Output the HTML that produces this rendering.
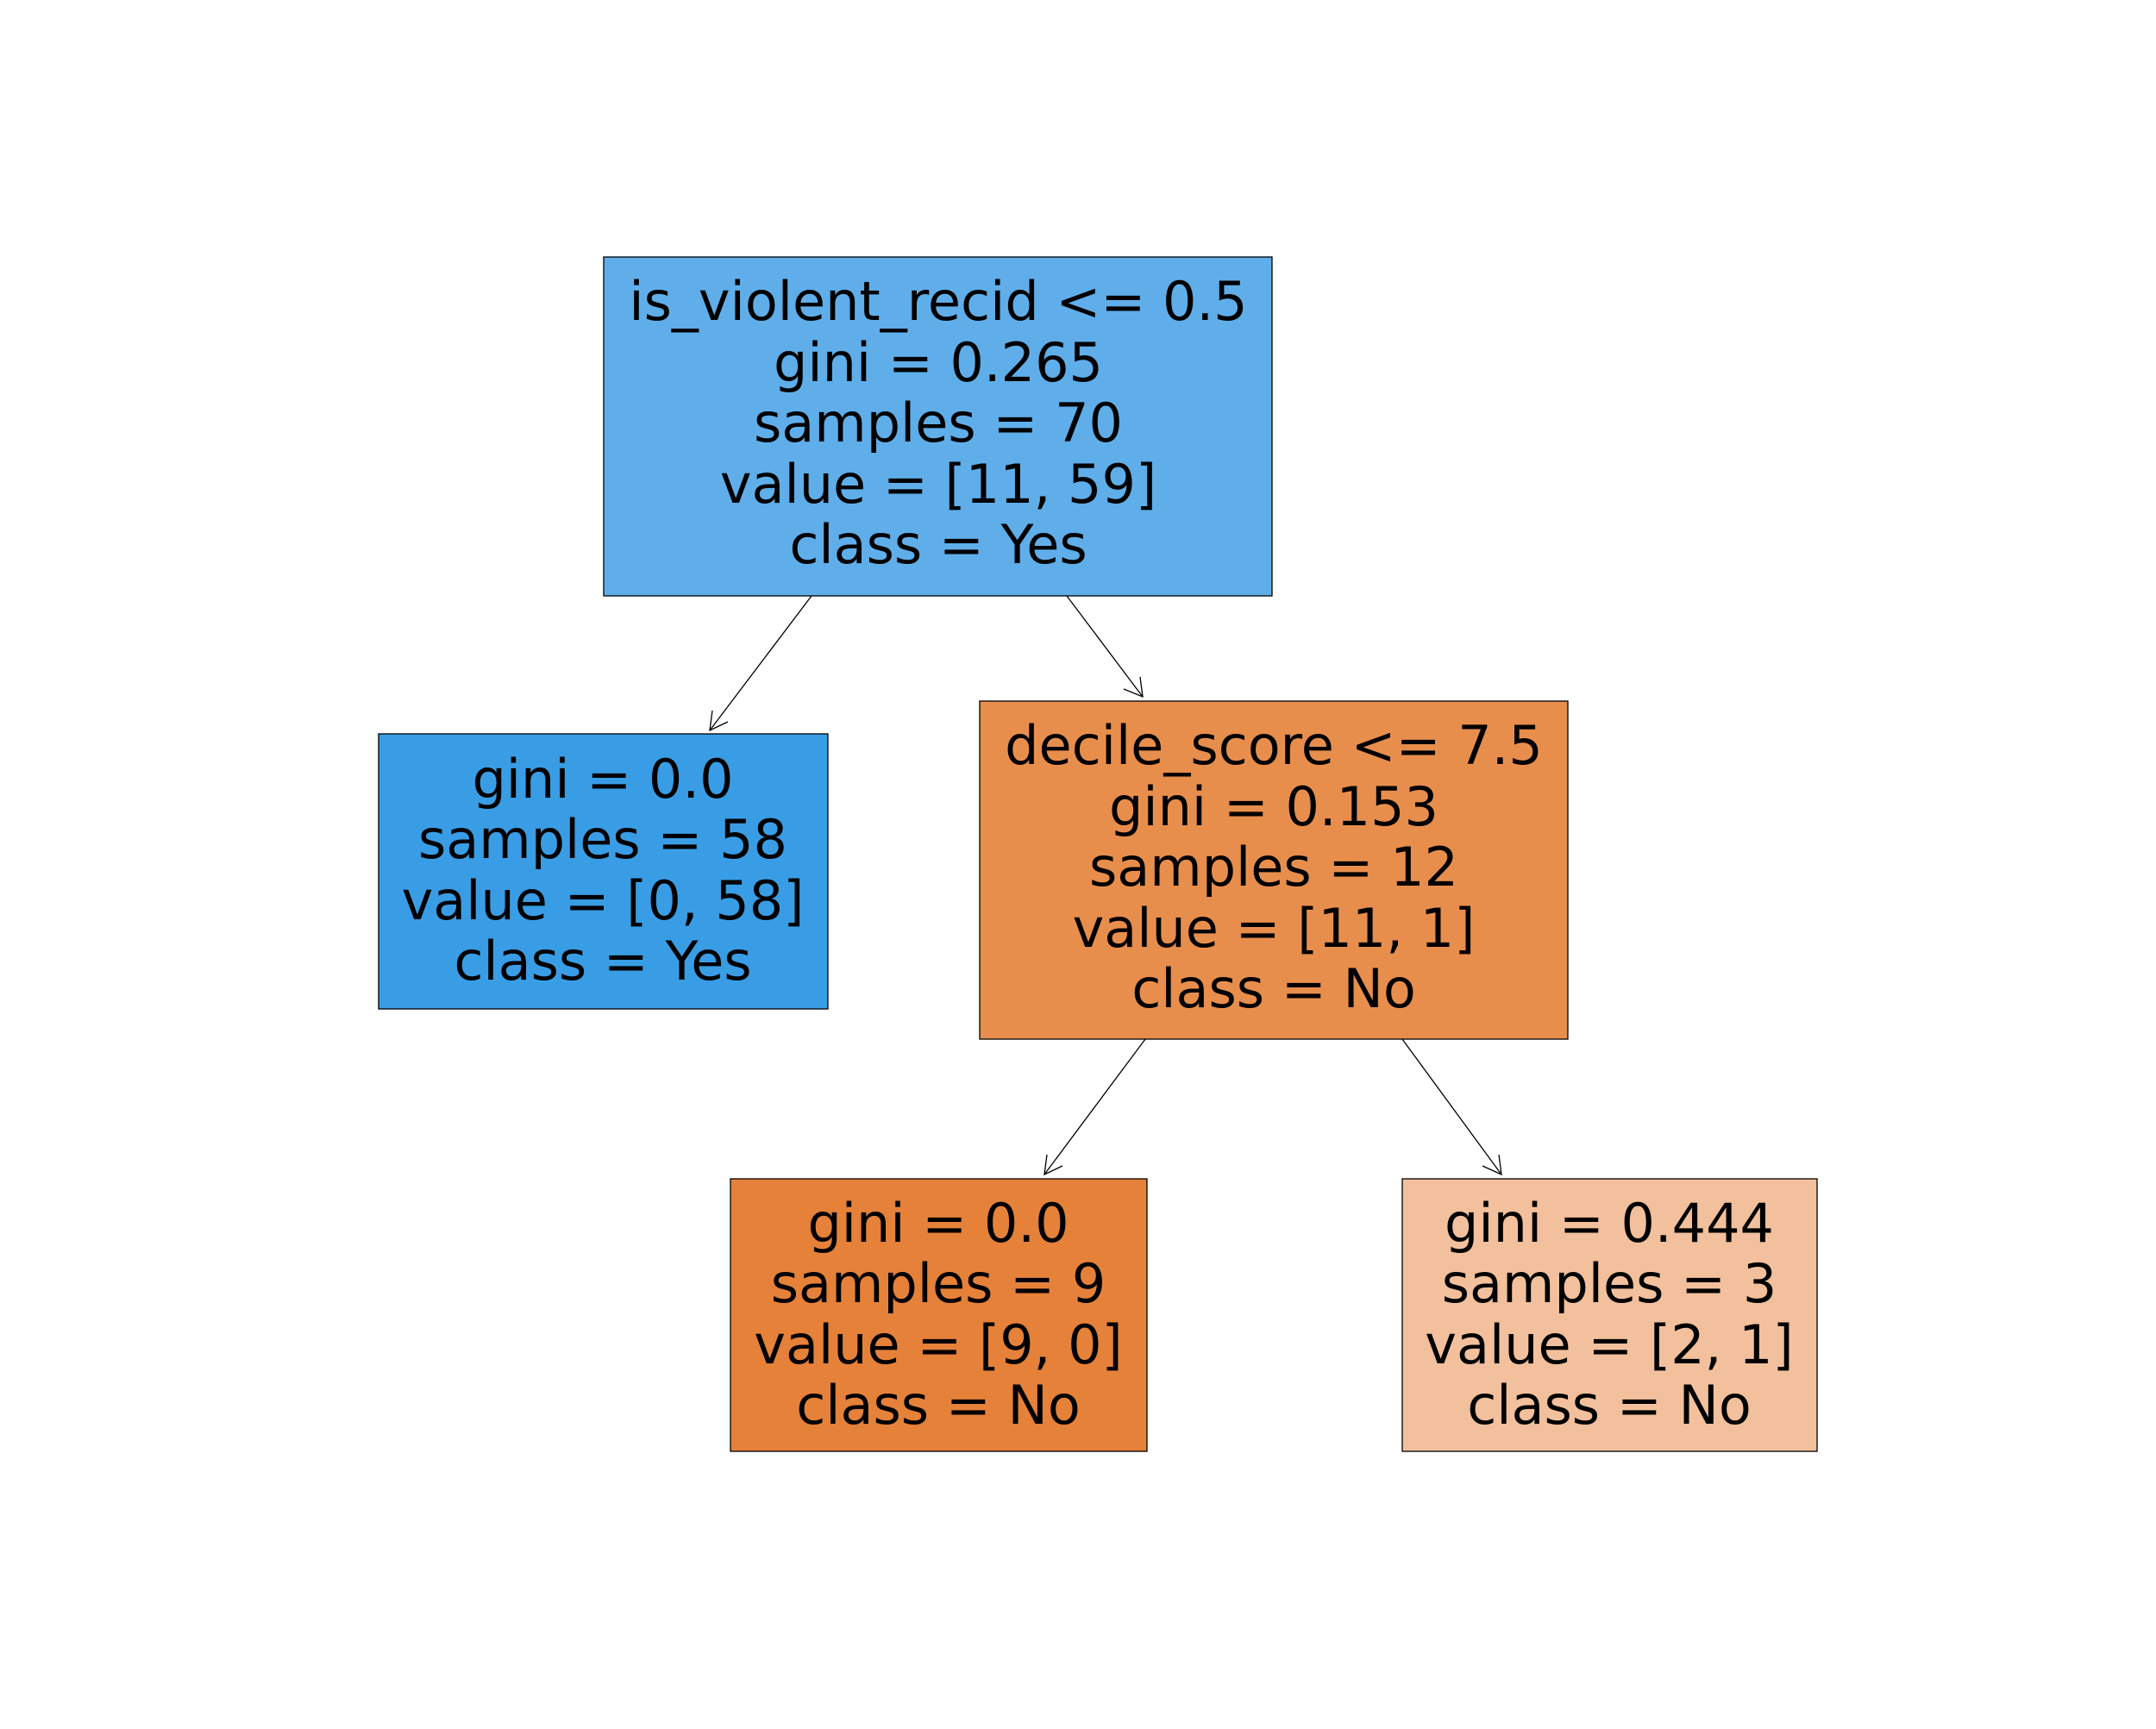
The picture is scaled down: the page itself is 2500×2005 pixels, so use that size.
<!DOCTYPE html>
<html><head><style>
html,body{margin:0;padding:0;background:#fff;}
svg text{font-family:"DejaVu Sans","Liberation Sans",sans-serif;font-size:62px;fill:#000;text-anchor:middle;}
</style></head><body>
<svg width="2500" height="2000" viewBox="0 0 2500 2000" xmlns="http://www.w3.org/2000/svg">
<g transform="translate(-3,-3)">
<g stroke="#000" stroke-width="1.3" fill="none">
<line x1="944" y1="694" x2="826" y2="850"/>
<polyline points="829,827 826,850 847,840"/>
<line x1="1240" y1="694" x2="1328" y2="811"/>
<polyline points="1306,802 1328,811 1325,788"/>
<line x1="1331" y1="1208" x2="1214" y2="1365"/>
<polyline points="1217,1342 1214,1365 1235,1355"/>
<line x1="1629" y1="1208" x2="1744" y2="1365"/>
<polyline points="1722,1355 1744,1365 1741,1342"/>
</g>
<g stroke="#000" stroke-width="1.3">
<rect x="703" y="301" width="775" height="393" fill="#5faeea"/>
<rect x="442" y="854" width="521" height="319" fill="#399de5"/>
<rect x="1139" y="816" width="682" height="392" fill="#e88e4d"/>
<rect x="850" y="1370" width="483" height="316" fill="#e58139"/>
<rect x="1629" y="1370" width="481" height="316" fill="#f2c09c"/>
</g>
<text x="1091" y="374">is_violent_recid &lt;= 0.5</text>
<text x="1091" y="445">gini = 0.265</text>
<text x="1091" y="515">samples = 70</text>
<text x="1091" y="586">value = [11, 59]</text>
<text x="1091" y="656">class = Yes</text>

<text x="702" y="928">gini = 0.0</text>
<text x="702" y="998">samples = 58</text>
<text x="702" y="1069">value = [0, 58]</text>
<text x="702" y="1139">class = Yes</text>

<text x="1480" y="889">decile_score &lt;= 7.5</text>
<text x="1480" y="960">gini = 0.153</text>
<text x="1480" y="1030">samples = 12</text>
<text x="1480" y="1101">value = [11, 1]</text>
<text x="1480" y="1171">class = No</text>

<text x="1091" y="1443">gini = 0.0</text>
<text x="1091" y="1513">samples = 9</text>
<text x="1091" y="1584">value = [9, 0]</text>
<text x="1091" y="1654">class = No</text>

<text x="1869" y="1443">gini = 0.444</text>
<text x="1869" y="1513">samples = 3</text>
<text x="1869" y="1584">value = [2, 1]</text>
<text x="1869" y="1654">class = No</text>
</g>
</svg>
</body></html>
